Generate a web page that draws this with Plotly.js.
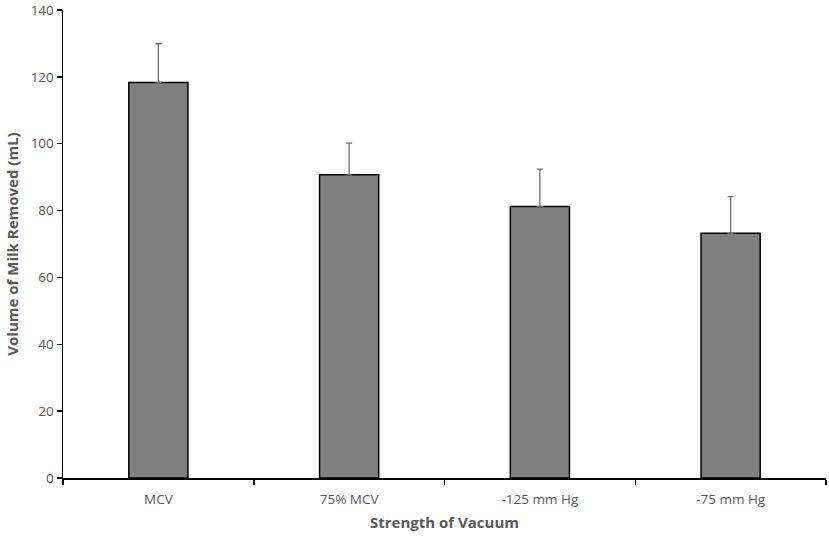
<!DOCTYPE html>
<html>
<head>
<meta charset="utf-8">
<script src="https://cdn.plot.ly/plotly-3.0.1.min.js"></script>
<style>
  html, body { margin: 0; padding: 0; background: #fff; }
  #chart { width: 829px; height: 536px; }
</style>
</head>
<body>
<div id="chart"></div>
<script>
// categories and values
var groups = ['MCV', '75% MCV', '-125 mm Hg', '-75 mm Hg'];
var milkVolume = [118.3, 90.7, 81.2, 73.2];
var milkSD = [11.6, 9.5, 11.2, 11.0];
var yTicks = [0, 20, 40, 60, 80, 100, 120, 140];

var bars = {
  x: groups,
  y: milkVolume,
  type: 'bar',
  marker: {
    color: '#808080',
    line: { color: '#000000', width: 1.5 }
  },
  error_y: {
    type: 'data',
    array: milkSD,
    symmetric: false,
    arrayminus: [0, 0, 0, 0],
    color: '#6d6d6d',
    thickness: 1.3,
    width: 3
  },
  hoverinfo: 'x+y'
};

var layout = {
  width: 829,
  height: 536,
  margin: { l: 63, r: 3, t: 10, b: 58 },
  paper_bgcolor: '#ffffff',
  plot_bgcolor: '#ffffff',
  showlegend: false,
  bargap: 0.69,
  font: { family: 'Open Sans, Liberation Sans, sans-serif', color: '#595959' },
  xaxis: {
    type: 'category',
    showline: true,
    linecolor: '#000000',
    linewidth: 1.5,
    ticks: 'outside',
    tickson: 'boundaries',
    ticklen: 5,
    tickcolor: '#000000',
    tickwidth: 1.5,
    showgrid: false,
    ticklabelstandoff: 8,
    tickfont: { size: 13.5, color: '#595959' },
    title: {
      text: 'Strength of Vacuum',
      font: { size: 15, color: '#595959', weight: 'bold' },
      standoff: 11
    }
  },
  yaxis: {
    range: [0, 140.0001],
    tickvals: yTicks,
    showline: true,
    linecolor: '#000000',
    linewidth: 1.5,
    ticks: 'outside',
    ticklen: 5,
    tickcolor: '#000000',
    tickwidth: 1.5,
    showgrid: false,
    zeroline: false,
    ticklabeloverflow: 'allow',
    tickfont: { size: 13.5, color: '#595959' },
    title: {
      text: 'Volume of Milk Removed (mL)',
      font: { size: 15, color: '#595959', weight: 'bold' },
      standoff: 8
    }
  }
};

Plotly.newPlot('chart', [bars], layout, { displayModeBar: false, staticPlot: true });
</script>
</body>
</html>
